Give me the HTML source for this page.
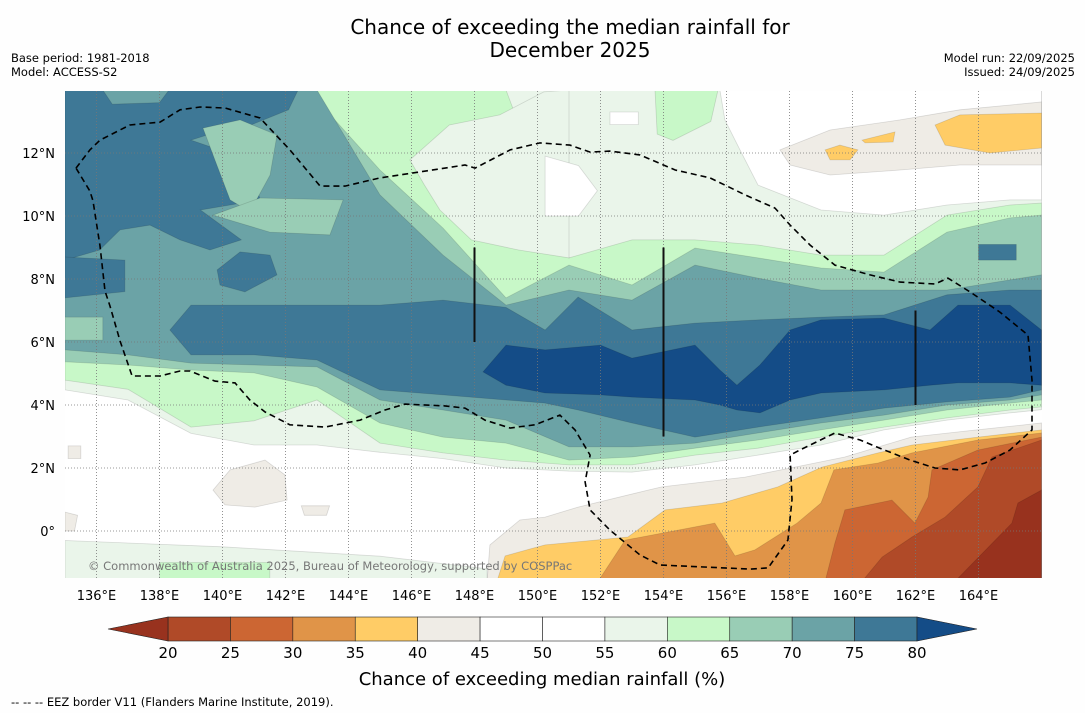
<!DOCTYPE html>
<html><head><meta charset="utf-8"><style>
html,body{margin:0;padding:0;background:#fefefe;}
svg{display:block;font-family:"DejaVu Sans","Liberation Sans",sans-serif;}
</style></head><body>
<svg id="chart" width="1085" height="713" viewBox="0 0 1085 713">
<rect width="1085" height="713" fill="#fefefe"/>
<text x="570" y="34" font-size="20" text-anchor="middle">Chance of exceeding the median rainfall for</text>
<text x="570" y="57" font-size="20" text-anchor="middle">December 2025</text>
<text x="11" y="62" font-size="11.5">Base period: 1981-2018</text>
<text x="11" y="76" font-size="11.5">Model: ACCESS-S2</text>
<text x="1075" y="62" font-size="11.5" text-anchor="end">Model run: 22/09/2025</text>
<text x="1075" y="76" font-size="11.5" text-anchor="end">Issued: 24/09/2025</text>
<defs><clipPath id="mapclip"><rect x="65" y="91" width="977" height="487"/></clipPath></defs>
<g id="map" clip-path="url(#mapclip)"></g>
<g id="axes"></g>
<g id="cbar"></g>
<text x="542" y="685" font-size="18" text-anchor="middle">Chance of exceeding median rainfall (%)</text>
<text x="11" y="706" font-size="11.5">--  --  -- EEZ border V11 (Flanders Marine Institute, 2019).</text>
</svg>
<script>
// ---- data ----
const levels = [20,25,30,35,40,45,50,55,60,65,70,75,80];
const levelColors = ["#b04a28","#cc6633","#e09448","#ffcc66","#efece6","#ffffff","#ffffff","#eaf5ea","#c8f8c8","#99cdb5","#6ba3a6","#3e7896"];
const underColor = "#98321e";
const overColor = "#144c87";
const lonTicks = [136,138,140,142,144,146,148,150,152,154,156,158,160,162,164];
const latTicks = [0,2,4,6,8,10,12];
const gridLons = [135,137,139,141,143,145,147,149,151,153,155,157,159,161,163,165,166];
const w55Top = [14,14,14,14,14,14,14,14,14,14,14,14,14,14,14,14,14];
const w55Bot = [4.48,4.16,3.1,2.73,2.73,2.5,2.3,2.0,1.9,1.87,2.10,2.41,2.73,3.21,3.52,3.75,3.85];
const w60Top = [14,14,14,14,14,14,14,14,8.67,9.24,9.24,9.08,8.76,8.76,10.03,10.35,10.41];
const w60Bot = [4.79,4.5,3.3,3.5,4.16,2.79,2.48,2.25,2.1,2.1,2.41,2.63,2.98,3.30,3.59,3.84,3.94];
const w65Top = [14,14,14,14,13.68,11.46,9.62,7.40,8.44,7.81,8.98,8.67,8.35,8.22,9.49,9.94,10.03];
const w65Bot = [5.37,5.27,5.11,5.02,4.57,3.43,2.98,2.79,2.25,2.35,2.63,2.89,3.21,3.52,3.84,4.06,4.16];
const w70Top = [14,14,14,14,14,10.67,8.76,7.17,7.65,7.33,8.44,8.03,7.65,7.65,7.65,7.97,8.13];
const w70Bot = [5.75,5.59,5.33,5.27,5.21,4.16,3.84,3.52,2.67,2.67,2.79,3.11,3.43,3.68,4.00,4.16,4.32];
const w75Lons = [138.33,139,141,143,145,147,149,150.24,151.29,153,155,157,159,161,163,165,166];
const w75Top = [6.38,7.17,7.17,7.17,7.17,7.33,7.1,6.38,7.43,6.38,6.60,6.70,6.79,6.86,7.5,7.65,7.65];
const w75Bot = [6.38,5.59,5.59,5.43,4.48,4.32,4.16,4.06,3.84,3.43,2.98,3.30,3.59,3.90,4.10,4.25,4.48];
const w80Lons = [148.27,149,150.24,152.0,153,155,155.79,156.33,157.06,158.02,159,161,162.46,163.35,165,166];
const w80Top = [5.05,5.90,5.75,5.90,5.49,5.90,5.11,4.63,5.27,6.38,6.70,6.76,6.38,7.17,7.17,6.38];
const w80Bot = [5.05,4.63,4.38,4.32,4.25,4.16,4.00,3.84,3.75,4.16,4.38,4.48,4.63,4.70,4.70,4.63];
const patches = [
 [7,[[145.95,11.78],[147.2,12.89],[148.8,13.21],[150.2,13.94],[151,14],[151,8.67],[149.4,8.92],[147.9,9.24],[146.9,10.19],[146.4,11.0]]],
 [8,[[153.73,14],[155.73,14],[155.5,13.0],[154.3,12.4],[153.8,12.6]]],
 [5,[[155.79,14],[166,14],[166,10.51],[165,10.51],[163,10.35],[161,10.03],[159,10.19],[157,10.98],[156.43,12.10],[155.95,13.05]]],
 [5,[[150.24,11.9],[151.3,11.6],[151.9,10.8],[151.3,10.0],[150.24,10.0]]],
 [5,[[152.3,13.3],[153.2,13.3],[153.2,12.9],[152.3,12.9]]],
 [4,[[157.7,12.10],[159.29,12.73],[161.51,13.05],[163.41,13.37],[166,13.62],[166,11.62],[163.41,11.62],[161.51,11.46],[159.29,11.30],[158.02,11.62]]],
 [3,[[162.62,12.89],[163.41,13.21],[166,13.27],[166,12.16],[164.37,12.0],[162.94,12.25]]],
 [3,[[159.13,12.10],[159.6,12.25],[160.17,12.10],[159.92,11.78],[159.29,11.78]]],
 [3,[[160.3,12.41],[161.35,12.67],[161.29,12.35],[160.4,12.32]]],
 [4,[[139.7,1.30],[140.24,1.94],[141.35,2.25],[141.98,1.78],[142.05,0.98],[141.03,0.76],[140.08,0.83]]],
 [4,[[135.1,2.7],[135.5,2.7],[135.5,2.3],[135.1,2.3]]],
 [4,[[135,0.6],[135.4,0.5],[135.3,0.0],[135,0.0]]],
 [4,[[142.5,0.8],[143.4,0.8],[143.3,0.5],[142.6,0.5]]],
 [7,[[135,-0.3],[140,-0.5],[145,-0.8],[148.4,-1.2],[148.4,-1.6],[135,-1.6]]],
 [8,[[138,-1.0],[141.5,-1.0],[141.5,-1.6],[138,-1.6]]],
 [4,[[148.4,-1.6],[148.49,-0.44],[149.44,0.35],[150.24,0.44],[151.29,0.76],[153.51,1.30],[153.95,1.40],[156.59,1.71],[158.17,2.03],[159.76,2.35],[161.86,2.98],[163.95,3.21],[166,3.43],[166,-1.6]]],
 [3,[[148.71,-1.6],[148.97,-0.79],[149.76,-0.57],[150.24,-0.44],[152.87,-0.19],[154.05,0.67],[155.86,0.89],[157.63,1.40],[159.03,2.03],[160.81,2.48],[161.89,2.73],[163.98,2.98],[166,3.21],[166,-1.6]]],
 [2,[[151.92,-1.6],[152.78,-0.29],[154.46,0.03],[155.63,0.25],[156.27,-0.79],[156.9,-0.6],[158.24,0.25],[159.0,0.89],[159.41,1.94],[160.81,2.16],[161.89,2.48],[163.98,2.89],[166,3.11],[166,-1.6]]],
 [1,[[159.13,-1.6],[159.44,-0.38],[159.76,0.67],[161.25,0.98],[161.98,0.25],[162.4,1.08],[162.52,1.94],[163.98,2.57],[166,2.98],[166,-1.6]]],
 [0,[[160.3,-1.6],[160.94,-0.83],[161.89,-0.19],[162.94,0.44],[163.98,1.40],[164.43,2.35],[166,2.89],[166,-1.6]]],
 [-1,[[163.25,-1.6],[165.06,0.25],[165.25,0.89],[166,1.30],[166,-1.6]]]
];
const blobs75 = [
 [11,[[135,14],[142.4,14],[142.1,13.37],[140.9,12.89],[139.6,12.6],[139.0,12.41],[139.9,12.10],[140.9,11.46],[141.2,10.51],[139.3,10.19],[140.6,9.24],[139.6,8.92],[138.65,9.24],[137.7,9.71],[136.75,9.56],[136.1,8.92],[135,8.60]]],
 [11,[[135,8.7],[136.9,8.6],[136.9,7.6],[135,7.4]]],
 [11,[[139.83,8.29],[140.56,8.86],[141.51,8.76],[141.73,8.13],[140.71,7.59],[139.92,7.81]]],
 [10,[[136.2,14],[138.3,14],[138.0,13.6],[136.5,13.55]]],
 [9,[[139.38,12.79],[140.56,13.05],[141.73,12.57],[141.51,11.3],[140.87,10.13],[140.24,10.51],[139.76,11.78]]],
 [9,[[139.7,10.03],[141.19,10.57],[143.83,10.51],[143.41,9.40],[141.5,9.49]]],
 [9,[[135,6.79],[136.2,6.79],[136.2,6.06],[135,6.06]]],
 [11,[[164.0,9.1],[165.2,9.1],[165.2,8.6],[164.0,8.6]]]
];
const eezLon = [135.35,135.79,136.11,137.06,138.02,138.65,139.29,140.08,141.19,142.14,143.10,143.89,145.0,146.27,147.70,148.02,149.13,150.08,151.03,151.67,152.30,153.25,154.37,155.48,156.59,157.54,158.02,158.65,159.44,160.56,161.51,162.62,163.03,163.73,164.68,165.57,165.70,165.70,165.0,164.21,163.41,162.62,161.83,160.87,160.24,159.44,158.33,158.02,158.08,157.95,157.32,156.75,153.89,153.25,152.30,151.67,151.51,151.67,151.19,150.71,149.92,149.13,148.33,147.70,147.06,145.79,145.16,144.37,143.25,142.14,141.35,140.87,140.46,140.40,139.76,138.97,138.65,138.02,137.13,136.75,136.43,136.27,136.11,135.89,135.79,135.35];
const eezLat = [11.52,12.10,12.41,12.89,12.98,13.37,13.46,13.43,13.11,12.10,10.95,10.95,11.21,11.40,11.62,11.52,12.10,12.32,12.25,12.03,12.06,11.94,11.46,11.21,10.67,10.25,9.71,9.08,8.44,8.13,7.90,7.84,8.03,7.59,6.95,6.22,4.79,3.21,2.57,2.16,1.94,2.00,2.25,2.63,2.89,3.11,2.57,2.41,1.0,-0.29,-1.17,-1.21,-1.08,-0.76,0.03,0.67,1.56,2.41,3.21,3.68,3.37,3.27,3.52,3.90,3.97,4.03,3.84,3.52,3.30,3.37,3.78,4.16,4.63,4.70,4.76,5.08,5.08,4.92,4.92,6.03,7.14,7.62,9.05,10.48,10.79,11.52];
const rainLines = [[148,6,9],[154,3,9],[162,4,7]];

// ---- axis functions ----
const X = lon => 65 + (lon - 135) * 31.5;
const Y = lat => 531 - lat * 31.5;
const NS = "http://www.w3.org/2000/svg";
const map = document.getElementById('map');
const axes = document.getElementById('axes');
const cbar = document.getElementById('cbar');
function colorOf(i){ return i < 0 ? underColor : (i >= levelColors.length ? overColor : levelColors[i]); }
function addPoly(parent, pts, fill, name){
  const p = document.createElementNS(NS,'path');
  p.setAttribute('d','M'+pts.map(q=>X(q[0]).toFixed(1)+','+Y(q[1]).toFixed(1)).join('L')+'Z');
  p.setAttribute('fill',fill);
  p.setAttribute('stroke','rgba(0,0,0,0.13)');
  p.setAttribute('stroke-width','0.8');
  
  
  parent.appendChild(p);
}
function band(lons, top, bot){
  const pts = [];
  lons.forEach((l,i)=>pts.push([l, top[i]]));
  for(let i=lons.length-1;i>=0;i--) pts.push([lons[i], bot[i]]);
  return pts;
}
const bg = document.createElementNS(NS,'rect');
bg.setAttribute('x',65); bg.setAttribute('y',91); bg.setAttribute('width',977); bg.setAttribute('height',487); bg.setAttribute('fill','#ffffff');


map.appendChild(bg);
addPoly(map, band(gridLons,w55Top,w55Bot), colorOf(7), 'contour-55');
addPoly(map, band(gridLons,w60Top,w60Bot), colorOf(8), 'contour-60');
addPoly(map, band(gridLons,w65Top,w65Bot), colorOf(9), 'contour-65');
addPoly(map, band(gridLons,w70Top,w70Bot), colorOf(10), 'contour-70');
blobs75.forEach(b=>addPoly(map, b[1], colorOf(b[0]), 'contour-patch'));
addPoly(map, band(w75Lons,w75Top,w75Bot), colorOf(11), 'contour-75');
addPoly(map, band(w80Lons,w80Top,w80Bot), overColor, 'contour-80');
patches.forEach(b=>addPoly(map, b[1], colorOf(b[0]), 'contour-patch'));

lonTicks.forEach(l=>{
  const ln=document.createElementNS(NS,'line');
  ln.setAttribute('x1',X(l));ln.setAttribute('x2',X(l));ln.setAttribute('y1',91);ln.setAttribute('y2',578);
  ln.setAttribute('stroke','#777');ln.setAttribute('stroke-width','0.8');ln.setAttribute('stroke-dasharray','1 2');
  
  
  map.appendChild(ln);
});
latTicks.forEach(l=>{
  const ln=document.createElementNS(NS,'line');
  ln.setAttribute('y1',Y(l));ln.setAttribute('y2',Y(l));ln.setAttribute('x1',65);ln.setAttribute('x2',1042);
  ln.setAttribute('stroke','#777');ln.setAttribute('stroke-width','0.8');ln.setAttribute('stroke-dasharray','1 2');
  
  
  map.appendChild(ln);
});
rainLines.forEach(r=>{
  const ln=document.createElementNS(NS,'line');
  ln.setAttribute('x1',X(r[0]));ln.setAttribute('x2',X(r[0]));ln.setAttribute('y1',Y(r[2]));ln.setAttribute('y2',Y(r[1]));
  ln.setAttribute('stroke','#111');ln.setAttribute('stroke-width','2');
  
  
  map.appendChild(ln);
});
const eez=document.createElementNS(NS,'path');
eez.setAttribute('d','M'+eezLon.map((l,i)=>X(l).toFixed(1)+','+Y(eezLat[i]).toFixed(1)).join('L'));
eez.setAttribute('fill','none');eez.setAttribute('stroke','#000');eez.setAttribute('stroke-width','1.6');eez.setAttribute('stroke-dasharray','6 4');


map.appendChild(eez);
const cp=document.createElementNS(NS,'text');
cp.setAttribute('x',88);cp.setAttribute('y',570);cp.setAttribute('font-size','11.5');cp.setAttribute('fill','#777');
cp.textContent='© Commonwealth of Australia 2025, Bureau of Meteorology, supported by COSPPac';


map.appendChild(cp);

lonTicks.forEach(l=>{
  const t=document.createElementNS(NS,'text');
  t.setAttribute('x',X(l));t.setAttribute('y',600);t.setAttribute('font-size','13');t.setAttribute('text-anchor','middle');
  t.textContent=l+'°E';
  
  
  axes.appendChild(t);
});
latTicks.forEach(l=>{
  const t=document.createElementNS(NS,'text');
  t.setAttribute('x',55);t.setAttribute('y',Y(l)+5);t.setAttribute('font-size','13');t.setAttribute('text-anchor','end');
  t.textContent=l===0?'0°':l+'°N';
  
  
  axes.appendChild(t);
});

const CX = v => 168 + (v - 20) * (917 - 168) / 60;
const cy0 = 617, cy1 = 641;
for(let i=0;i<levelColors.length;i++){
  const r=document.createElementNS(NS,'rect');
  r.setAttribute('x',CX(levels[i]));r.setAttribute('y',cy0);r.setAttribute('width',CX(levels[i+1])-CX(levels[i]));r.setAttribute('height',cy1-cy0);
  r.setAttribute('fill',levelColors[i]);r.setAttribute('stroke','#222');r.setAttribute('stroke-width','0.6');
  
  
  cbar.appendChild(r);
}
const tl=document.createElementNS(NS,'polygon');
tl.setAttribute('points',`${CX(20)},${cy0} ${CX(20)},${cy1} 108,${(cy0+cy1)/2}`);
tl.setAttribute('fill',underColor);tl.setAttribute('stroke','#222');tl.setAttribute('stroke-width','0.6');


cbar.appendChild(tl);
const tr=document.createElementNS(NS,'polygon');
tr.setAttribute('points',`${CX(80)},${cy0} ${CX(80)},${cy1} 977,${(cy0+cy1)/2}`);
tr.setAttribute('fill',overColor);tr.setAttribute('stroke','#222');tr.setAttribute('stroke-width','0.6');


cbar.appendChild(tr);
levels.forEach(v=>{
  const t=document.createElementNS(NS,'text');
  t.setAttribute('x',CX(v));t.setAttribute('y',658);t.setAttribute('font-size','15');t.setAttribute('text-anchor','middle');
  t.textContent=v;
  
  
  cbar.appendChild(t);
});
</script>
</body></html>
